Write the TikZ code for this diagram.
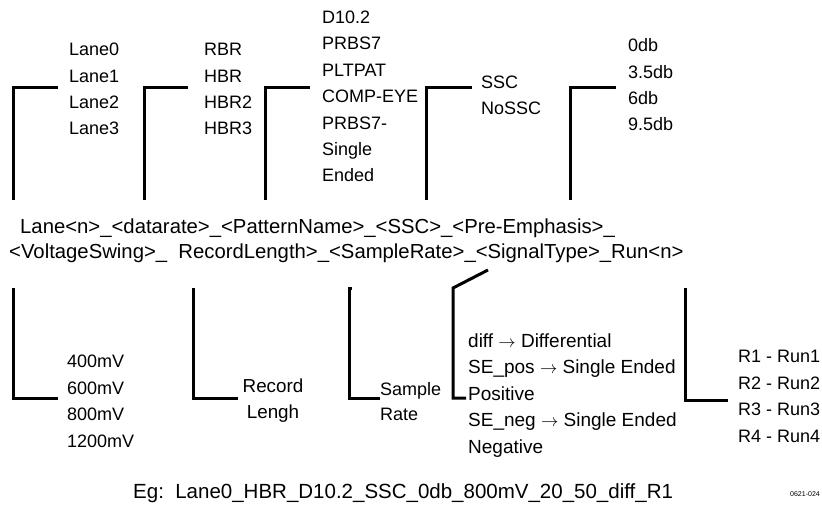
\documentclass[tikz,border=0pt]{standalone}
\usepackage{fontspec}
\setmainfont{Liberation Sans}
\usetikzlibrary{positioning}
\tikzset{
  listtext/.style={anchor=base west, align=left, inner sep=0pt, font=\fontsize{18}{26.4}\selectfont},
  maintext/.style={anchor=base west, inner sep=0pt, font=\fontsize{20.3}{24}\selectfont},
  bracket/.style={line width=3pt, black}
}

\begin{document}
\begin{tikzpicture}[x=1pt, y=-1pt]
    \useasboundingbox (0,0) rectangle (822,508);
    % option lists above the name (placed by the baseline of their last line)
    \node[listtext] (lanes) at (69,135) {Lane0\\Lane1\\Lane2\\Lane3};
    \node[listtext] (rates) at (204,135) {RBR\\HBR\\HBR2\\HBR3};
    \node[listtext] (patterns) at (322,182) {D10.2\\PRBS7\\PLTPAT\\COMP-EYE\\PRBS7-\\Single\\Ended};
    \node[listtext] (ssc) at (481,115) {SSC\\NoSSC};
    \node[listtext] (emph) at (628,131) {0db\\3.5db\\6db\\9.5db};
    % the file name pattern
    \node[maintext] (nameA) at (20,233) {Lane<n>\_<datarate>\_<PatternName>\_<SSC>\_<Pre-Emphasis>\_};
    \node[maintext] (nameB) at (9,258) {<VoltageSwing>\_\ \ RecordLength>\_<SampleRate>\_<SignalType>\_Run<n>};
    % option lists below the name
    \node[listtext] (swing) at (67,447) {400mV\\600mV\\800mV\\1200mV};
    \node[listtext, anchor=base, align=center, font=\fontsize{18.8}{26}\selectfont] (reclen) at (273,418) {Record\\Lengh};
    \node[listtext, font=\fontsize{18}{25}\selectfont] (samprate) at (380,420) {Sample\\Rate};
    \node[listtext, font=\fontsize{19}{26.5}\selectfont] (sigtype) at (468,453)
        {diff $\rightarrow$ Differential\\SE\_pos $\rightarrow$ Single Ended\\Positive\\SE\_neg $\rightarrow$ Single Ended\\Negative};
    \node[listtext] (runs) at (738,442) {R1 - Run1\\R2 - Run2\\R3 - Run3\\R4 - Run4};
    \node[maintext, font=\fontsize{20.5}{24}\selectfont] (example) at (133,498)
        {Eg:\ \ Lane0\_HBR\_D10.2\_SSC\_0db\_800mV\_20\_50\_diff\_R1};
    \node[maintext, font=\fontsize{7}{8}\selectfont] (figid) at (790,496) {0621-024};
    % bracket ends
    \coordinate (laneFoot) at (13,200);   \coordinate (laneTip) at (58,88);
    \coordinate (rateFoot) at (144,200);  \coordinate (rateTip) at (188,88);
    \coordinate (patFoot) at (265,200);   \coordinate (patTip) at (310,88);
    \coordinate (sscFoot) at (426,200);   \coordinate (sscTip) at (472,88);
    \coordinate (emphFoot) at (570,200);  \coordinate (emphTip) at (616,88);
    \coordinate (swingTop) at (13,288);   \coordinate (swingTip) at (58,398);
    \coordinate (recTop) at (193,288);    \coordinate (recTip) at (238,398);
    \coordinate (sampTop) at (352,288);   \coordinate (sampTip) at (380,398);
    \coordinate (sigTop) at (488,270);    \coordinate (sigTip) at (466,398);
    \coordinate (runTop) at (685,288);    \coordinate (runTip) at (728,400);
    % brackets
    \draw[bracket] (laneFoot) |- (laneTip);
    \draw[bracket] (rateFoot) |- (rateTip);
    \draw[bracket] (patFoot) |- (patTip);
    \draw[bracket] (sscFoot) |- (sscTip);
    \draw[bracket] (emphFoot) |- (emphTip);
    \draw[bracket] (swingTop) |- (swingTip);
    \draw[bracket] (recTop) |- (recTip);
    \draw[bracket] (sampTop) -- ++(-3,0) |- (sampTip);
    \draw[bracket] (sigTop) -- (453,288) |- (sigTip);
    \draw[bracket] (runTop) |- (runTip);
\end{tikzpicture}
\end{document}
